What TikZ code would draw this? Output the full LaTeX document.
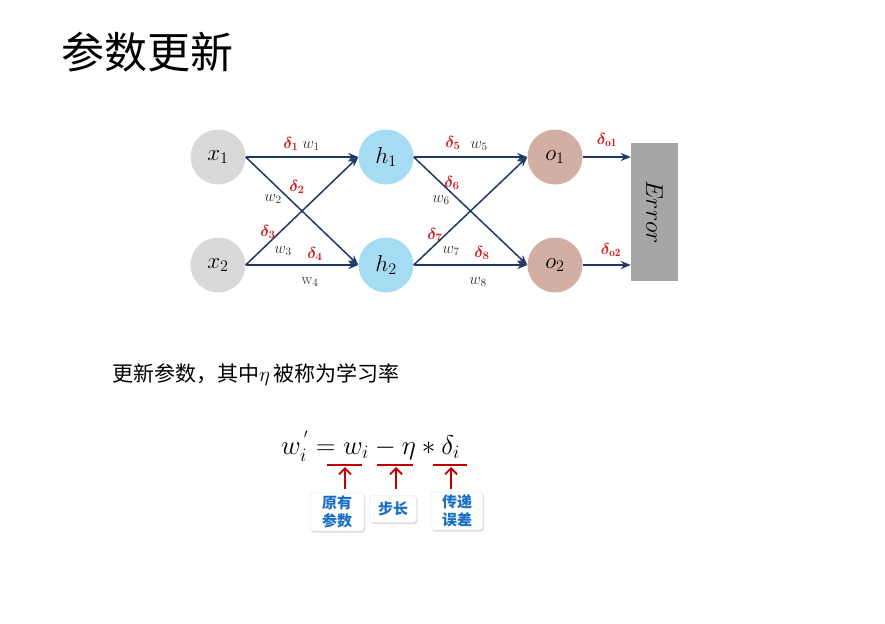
\RequirePackage{fix-cm}
\documentclass[tikz,border=0pt]{standalone}
\usepackage{fontspec}
\usepackage{bm}
\newfontfamily\cjk{Noto Sans CJK SC}
\usetikzlibrary{arrows.meta,shadows}
\definecolor{navy}{HTML}{1F3864}
\definecolor{dred}{HTML}{D01F1F}
\definecolor{wgray}{HTML}{303030}
\definecolor{xgray}{HTML}{D9D9D9}
\definecolor{hblue}{HTML}{A5DCF3}
\definecolor{obrown}{HTML}{D3AFA3}
\definecolor{errgray}{HTML}{A6A6A6}
\definecolor{boxblue}{HTML}{1C6FC4}
\definecolor{mathred}{HTML}{C00000}
\tikzset{
  neuron/.style={circle, minimum size=55pt, inner sep=0pt, font=\fontsize{23}{27}\selectfont},
  conn/.style={draw=navy, line width=1.5pt, -{Stealth[length=10pt,width=8pt]}},
  dl/.style={text=dred, font=\fontsize{16}{18}\selectfont, inner sep=0pt},
  wl/.style={text=wgray, font=\fontsize{16}{18}\selectfont, inner sep=0pt},
  tag/.style={draw=gray!25, fill=white, rounded corners=3pt, text=boxblue, align=center,
    font=\cjk\bfseries\fontsize{15}{18}\selectfont, inner sep=2pt,
    drop shadow={shadow xshift=1pt, shadow yshift=-1.5pt, fill=gray!45, opacity=0.6}},
  redline/.style={draw=mathred, line width=2pt},
  redarrow/.style={draw=mathred, line width=1.8pt, -{Straight Barb[length=6pt,width=12pt]}}
}
\begin{document}
\begin{tikzpicture}[x=1pt,y=-1pt]
\useasboundingbox (0,0) rectangle (885,623);
\node[font=\cjk\fontsize{43}{48}\selectfont, anchor=west, inner sep=0pt] (title) at (61,52) {参数更新};

\node[neuron, fill=xgray] (x1) at (218,157) {$x_1$};
\node[neuron, fill=xgray] (x2) at (218,265) {$x_2$};
\node[neuron, fill=hblue] (h1) at (386,157) {$h_1$};
\node[neuron, fill=hblue] (h2) at (386,265) {$h_2$};
\node[neuron, fill=obrown] (o1) at (555,157) {$o_1$};
\node[neuron, fill=obrown] (o2) at (555,265) {$o_2$};
\node[fill=errgray, minimum width=47pt, minimum height=138pt, inner sep=0pt] (err) at (654.5,212) {};
\node[rotate=-90, font=\fontsize{24}{28}\selectfont] (errt) at (err.center) {$Error$};

\draw[conn] (x1.east) -- (h1.west);
\draw[conn] (x1.east) -- (h2.west);
\draw[conn] (x2.east) -- (h1.west);
\draw[conn] (x2.east) -- (h2.west);
\draw[conn] (h1.east) -- (o1.west);
\draw[conn] (h1.east) -- (o2.west);
\draw[conn] (h2.east) -- (o1.west);
\draw[conn] (h2.east) -- (o2.west);
\coordinate (e1) at (err.west |- o1.east);
\coordinate (e2) at (err.west |- o2.east);
\draw[conn] (o1.east) -- (e1);
\draw[conn] (o2.east) -- (e2);

\node[dl] (d1) at (291,144) {$\bm{\delta}_{\bm{1}}$};
\node[wl] (w1) at (311,146) {$w_1$};
\node[dl] (d2) at (297,187) {$\bm{\delta}_{\bm{2}}$};
\node[wl] (w2) at (273,199) {$w_2$};
\node[dl] (d3) at (268,232) {$\bm{\delta}_{\bm{3}}$};
\node[wl] (w3) at (283,251) {$w_3$};
\node[dl] (d4) at (315,254) {$\bm{\delta}_{\bm{4}}$};
\node[wl] (w4) at (310,282) {$\mathrm{w}_4$};
\node[dl] (d5) at (453,143) {$\bm{\delta}_{\bm{5}}$};
\node[wl] (w5) at (479,146) {$w_5$};
\node[dl] (d6) at (452,183) {$\bm{\delta}_{\bm{6}}$};
\node[wl] (w6) at (441,200) {$w_6$};
\node[dl] (d7) at (435,235) {$\bm{\delta}_{\bm{7}}$};
\node[wl] (w7) at (451,251) {$w_7$};
\node[dl] (d8) at (482,253) {$\bm{\delta}_{\bm{8}}$};
\node[wl] (w8) at (478,282) {$w_8$};
\node[dl] (do1) at (607,140) {$\bm{\delta}_{\bm{\mathrm{o1}}}$};
\node[dl] (do2) at (611,250) {$\bm{\delta}_{\bm{\mathrm{o2}}}$};

\node[anchor=west, font=\fontsize{21}{24}\selectfont, inner sep=0pt] (desc) at (112,375)
  {\cjk 更新参数，其中\rmfamily$\eta$\,\cjk 被称为学习率};

\node[anchor=west, font=\fontsize{27}{32}\selectfont, inner sep=0pt] (eq) at (281,446)
  {$w_i^{\,'} = w_i - \eta * \delta_i$};

\coordinate (u1a) at (327,465); \coordinate (u1b) at (362,465);
\coordinate (u2a) at (377,465); \coordinate (u2b) at (413,465);
\coordinate (u3a) at (433,465); \coordinate (u3b) at (467,465);
\draw[redline] (u1a) -- (u1b);
\draw[redline] (u2a) -- (u2b);
\draw[redline] (u3a) -- (u3b);

\node[tag, minimum width=54pt, minimum height=38pt] (b1) at (337,512) {原有\\参数};
\node[tag, minimum width=47pt, minimum height=27pt] (b2) at (393,509) {步长};
\node[tag, minimum width=52pt, minimum height=38pt] (b3) at (457,511) {传递\\误差};

\coordinate (a1) at (345,489); \coordinate (a1t) at (345,467);
\coordinate (a2) at (396,489); \coordinate (a2t) at (396,467);
\coordinate (a3) at (451,489); \coordinate (a3t) at (451,467);
\draw[redarrow] (a1) -- (a1t);
\draw[redarrow] (a2) -- (a2t);
\draw[redarrow] (a3) -- (a3t);
\end{tikzpicture}
\end{document}
